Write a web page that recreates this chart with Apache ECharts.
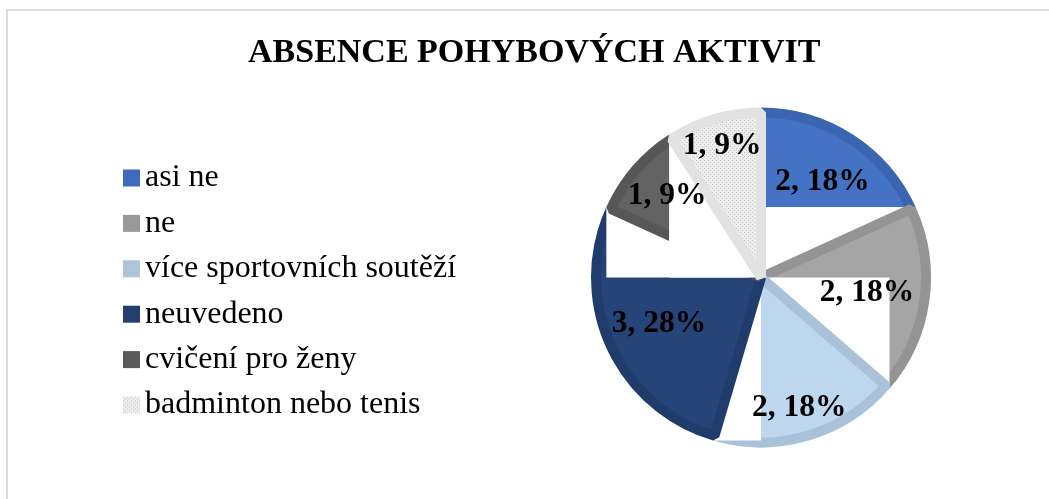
<!DOCTYPE html>
<html>
<head>
<meta charset="utf-8">
<script src="https://cdn.jsdelivr.net/npm/echarts@6/dist/echarts.min.js"></script>
<style>
	html, body { margin: 0; padding: 0; background: #fff; }
	#main { width: 1049px; height: 499px; }
	/* tenký rámeček vlevo a nahoře */
	#frame { position: absolute; left: 6px; top: 9px; width: 1049px; height: 499px;
		border-left: 2px solid #dcdcdc; border-top: 2px solid #dcdcdc; pointer-events: none; }
</style>
</head>
<body>
<div id="main"></div>
<div id="frame"></div>
<script>
var names = ['asi ne', 'ne', 'více sportovních soutěží', 'neuvedeno', 'cvičení pro ženy', 'badminton nebo tenis'];
var values = [2, 2, 2, 3, 1, 1];
var percents = ['18%', '18%', '18%', '28%', '9%', '9%'];	// popisky tak, jak jsou v grafu

var fills = ['#4472c4', '#a5a5a5', '#bdd7ee', '#264478', '#636363', null];
var strokes = ['#3b65b0', '#949494', '#a9c2da', '#203c6c', '#575757', '#e2e2e2'];
var legendColors = ['#3f6bbd', '#999999', '#adc4d9', '#243f6e', '#5a5a5a', null];
var labelDist = [0.67, 0.63, 0.8, 0.66, 0.73, 0.81];	// vzdálenost popisku od středu (podíl poloměru)

// tečkovaný vzor pro badminton
var dotCanvas = document.createElement('canvas');
dotCanvas.width = 4; dotCanvas.height = 4;
var ctx = dotCanvas.getContext('2d');
ctx.fillStyle = '#ededed';
ctx.fillRect(0, 0, 4, 4);
ctx.fillStyle = '#c2c2c2';
ctx.fillRect(0, 0, 1, 1);
ctx.fillRect(2, 2, 1, 1);
var dots = { image: dotCanvas, repeat: 'repeat' };
fills[5] = dots;
legendColors[5] = dots;

var total = values.reduce(function (a, b) { return a + b; }, 0);
var ranges = [];	// [začátek, konec] každé výseče
var acc = 0;
for (var i = 0; i < values.length; i++) {
	ranges.push([acc, acc + values[i]]);
	acc += values[i];
}

var chart = echarts.init(document.getElementById('main'));

function renderSlice(params, api) {
	var i = params.dataIndex;
	var start = api.value(0), end = api.value(1);
	var c = api.coord([0, start]);
	var p0 = api.coord([1, start]);
	var p1 = api.coord([1, end]);
	var R = Math.sqrt((p0[0] - c[0]) * (p0[0] - c[0]) + (p0[1] - c[1]) * (p0[1] - c[1]));
	var a0 = Math.atan2(p0[1] - c[1], p0[0] - c[0]);
	var a1 = Math.atan2(p1[1] - c[1], p1[0] - c[0]);
	while (a1 <= a0) a1 += Math.PI * 2;
	var lp = api.coord([labelDist[i], (start + end) / 2]);
	return {
		type: 'group',
		children: [{
			type: 'sector',
			shape: { cx: c[0], cy: c[1], r0: 0, r: R - 5, startAngle: a0, endAngle: a1, clockwise: true },
			style: { fill: fills[i], stroke: strokes[i], lineWidth: 10, lineJoin: 'bevel' }
		}, {
			// bílý rámeček popisku, překrytý dalšími výsečemi
			type: 'rect',
			shape: { x: Math.min(c[0], p1[0]), y: Math.min(c[1], p1[1]),
				width: Math.abs(p1[0] - c[0]), height: Math.abs(p1[1] - c[1]) },
			style: { fill: '#fff' }
		}, {
			type: 'text',
			z2: 100,
			x: lp[0], y: lp[1],
			style: {
				text: values[i] + ', ' + percents[i],
				align: 'center', verticalAlign: 'middle',
				font: 'bold 31.5px "Liberation Serif", "Times New Roman", serif',
				fill: '#000'
			}
		}]
	};
}

var option = {
	animation: false,
	title: {
		text: 'ABSENCE POHYBOVÝCH AKTIVIT',
		left: 243,
		top: 31,
		textStyle: {
			fontFamily: '"Liberation Serif", "Times New Roman", serif',
			fontWeight: 'bold',
			fontSize: 34,
			color: '#000'
		}
	},
	legend: {
		orient: 'vertical',
		left: 118,
		top: 156,
		itemWidth: 17,
		itemHeight: 17,
		itemGap: 11.4,
		icon: 'rect',
		data: names,
		textStyle: {
			fontFamily: '"Liberation Serif", "Times New Roman", serif',
			fontSize: 32,
			lineHeight: 34,
			color: '#000'
		}
	},
	polar: {
		center: [761, 277.5],
		radius: 170
	},
	angleAxis: {
		type: 'value',
		min: 0,
		max: total,
		startAngle: 90,
		clockwise: true,
		show: false
	},
	radiusAxis: {
		type: 'value',
		min: 0,
		max: 1,
		show: false
	},
	series: [{
		// neviditelný koláč jen kvůli legendě
		type: 'pie',
		radius: [0, 0],
		center: [761, 277.5],
		silent: true,
		label: { show: false },
		labelLine: { show: false },
		data: names.map(function (n, k) {
			return { name: n, value: values[k], itemStyle: { color: legendColors[k] } };
		})
	}, {
		type: 'custom',
		coordinateSystem: 'polar',
		silent: true,
		renderItem: renderSlice,
		data: ranges
	}]
};
chart.setOption(option);
</script>
</body>
</html>
